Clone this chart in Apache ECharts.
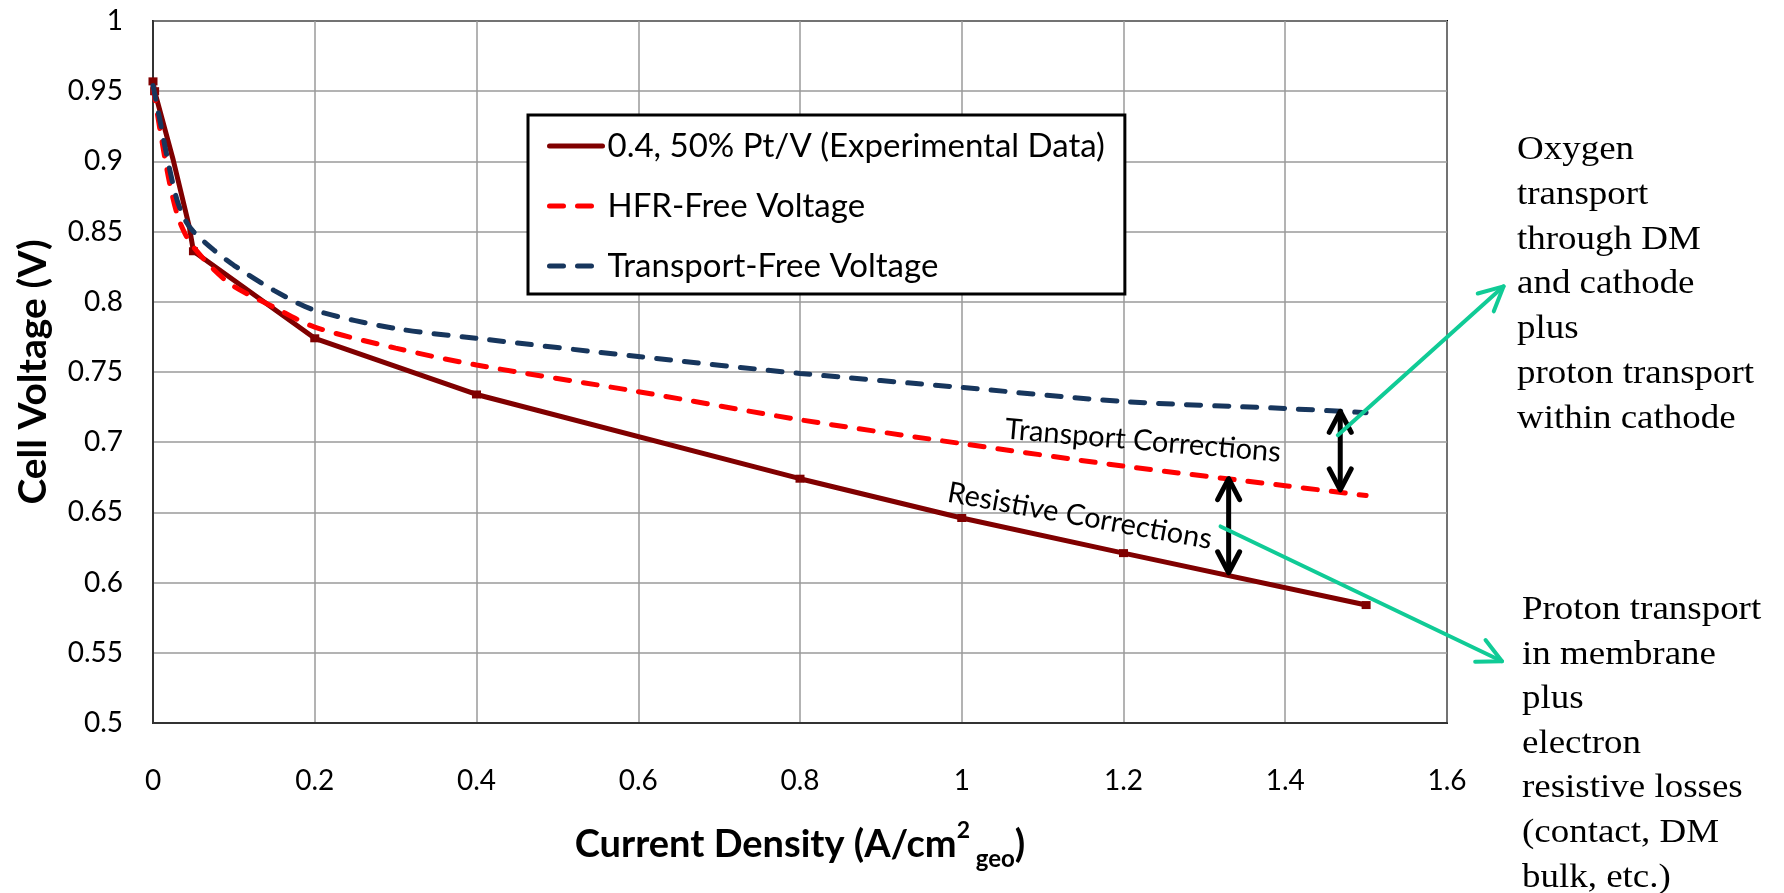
<!DOCTYPE html>
<html>
<head>
<meta charset="utf-8">
<script src="https://cdn.jsdelivr.net/npm/echarts@6/dist/echarts.min.js"></script>
<style>
  html, body { margin: 0; padding: 0; background: #fff; }
  #chart { width: 1784px; height: 893px; }
</style>
</head>
<body>
<div id="chart"></div>
<script>
// Polarisation curve, 0.4 mg/cm2 50% Pt/V cathode
const expJ = [0, 0.002, 0.025, 0.045, 0.05, 0.2, 0.4, 0.8, 1.0, 1.2, 1.5];
const expV = [0.957, 0.950, 0.901, 0.853, 0.836, 0.774, 0.734, 0.674, 0.646, 0.621, 0.584];
// 1 = point drawn with a marker
const expMarked = [1, 1, 0, 0, 1, 1, 1, 1, 1, 1, 1];

// Model curves share one current-density grid
const modelJ = [0, 0.01, 0.02, 0.03, 0.04, 0.05, 0.075, 0.1, 0.15, 0.2, 0.3, 0.4, 0.6, 0.8, 1.0, 1.2, 1.4, 1.5];
const hfrFreeV = [0.953, 0.918, 0.886, 0.862, 0.848, 0.839, 0.823, 0.811, 0.796, 0.782, 0.767, 0.755, 0.736, 0.716, 0.699, 0.683, 0.669, 0.662];
const transportFreeV = [0.954, 0.925, 0.896, 0.872, 0.858, 0.850, 0.837, 0.826, 0.808, 0.794, 0.781, 0.774, 0.761, 0.749, 0.739, 0.729, 0.724, 0.721];

const seriesNames = ['0.4, 50% Pt/V (Experimental Data)', 'HFR-Free Voltage', 'Transport-Free Voltage'];

const xTickLabels = ['0', '0.2', '0.4', '0.6', '0.8', '1', '1.2', '1.4', '1.6'];
const yTickLabels = ['0.5', '0.55', '0.6', '0.65', '0.7', '0.75', '0.8', '0.85', '0.9', '0.95', '1'];

// Correction spans: [current density, upper voltage, lower voltage]
const correctionSpans = [[1.33, 0.674, 0.607], [1.468, 0.722, 0.666]];
// Correction labels: [text, current density, voltage]
const correctionLabels = [['Transport Corrections', 1.224, 0.701], ['Resistive Corrections', 1.146, 0.6474]];
const correctionAngles = [-4.8, -10.2];
// Callouts: [from J, from V, to J, to V]
const callouts = [[1.465, 0.705, 1.670, 0.811], [1.320, 0.640, 1.668, 0.544]];

const oxygenNote = ['Oxygen', 'transport', 'through DM', 'and cathode', 'plus', 'proton transport', 'within cathode'];
const protonNote = ['Proton transport', 'in membrane', 'plus', 'electron', 'resistive losses', '(contact, DM', 'bulk, etc.)'];

const zip = (xs, ys) => xs.map((x, i) => [x, ys[i]]);

function arrowHead(tip, from, len, half) {
  const dx = tip[0] - from[0], dy = tip[1] - from[1];
  const d = Math.hypot(dx, dy) || 1;
  const ux = dx / d, uy = dy / d;
  const bx = tip[0] - ux * len, by = tip[1] - uy * len;
  return [[bx - uy * half, by + ux * half], tip, [bx + uy * half, by - ux * half]];
}

function renderSpan(params, api) {
  const top = api.coord([api.value(0), api.value(1)]);
  const bot = api.coord([api.value(0), api.value(2)]);
  const st = { stroke: '#000', lineWidth: 5, lineCap: 'round', lineJoin: 'round', fill: null };
  return {
    type: 'group',
    children: [
      { type: 'line', shape: { x1: top[0], y1: top[1] + 2, x2: bot[0], y2: bot[1] - 2 }, style: st },
      { type: 'polyline', shape: { points: arrowHead(top, bot, 21, 11) }, style: st },
      { type: 'polyline', shape: { points: arrowHead(bot, top, 21, 11) }, style: st }
    ]
  };
}

function renderCallout(params, api) {
  const a = api.coord([api.value(0), api.value(1)]);
  const b = api.coord([api.value(2), api.value(3)]);
  const st = { stroke: '#10CB96', lineWidth: 4, lineCap: 'round', lineJoin: 'round', fill: null };
  return {
    type: 'group',
    children: [
      { type: 'line', shape: { x1: a[0], y1: a[1], x2: b[0], y2: b[1] }, style: st },
      { type: 'polyline', shape: { points: arrowHead(b, a, 24, 12) }, style: st }
    ]
  };
}

function renderLabel(params, api) {
  const p = api.coord([api.value(1), api.value(2)]);
  return {
    type: 'text',
    x: p[0], y: p[1],
    rotation: correctionAngles[params.dataIndex] * Math.PI / 180,
    style: {
      text: correctionLabels[params.dataIndex][0],
      font: '29px Lato',
      fill: '#000',
      align: 'center',
      verticalAlign: 'middle'
    }
  };
}

const chart = echarts.init(document.getElementById('chart'), null, { renderer: 'canvas' });

chart.setOption({
  animation: false,
  backgroundColor: '#fff',
  textStyle: { fontFamily: 'Lato' },
  grid: {
    left: 153, top: 21, right: 337, bottom: 170,
    show: true, borderColor: '#000', borderWidth: 2, backgroundColor: 'transparent'
  },
  xAxis: {
    type: 'value', min: 0, max: 1.6, interval: 0.2,
    name: 'Current Density (A/cm{sup|2}{sub| geo})',
    nameLocation: 'middle', nameGap: 96,
    nameTextStyle: {
      fontFamily: 'Lato', fontWeight: 'bold', fontSize: 38, color: '#000', lineHeight: 52,
      rich: {
        sup: { fontFamily: 'Lato', fontWeight: 'bold', fontSize: 23, lineHeight: 30, verticalAlign: 'top', color: '#000' },
        sub: { fontFamily: 'Lato', fontWeight: 'bold', fontSize: 24, lineHeight: 22, verticalAlign: 'bottom', color: '#000' }
      }
    },
    axisLine: { show: true, onZero: false, lineStyle: { color: '#333', width: 2 } },
    axisTick: { show: false },
    axisLabel: {
      margin: 44, fontSize: 28, color: '#000', fontFamily: 'Lato',
      formatter: v => xTickLabels[Math.round(v / 0.2)]
    },
    splitLine: { show: true, lineStyle: { color: '#9a9a9a', width: 1.5 } }
  },
  yAxis: {
    type: 'value', min: 0.5, max: 1, interval: 0.05,
    name: 'Cell Voltage (V)',
    nameLocation: 'middle', nameGap: 100, nameRotate: 90,
    nameTextStyle: { fontFamily: 'Lato', fontWeight: 'bold', fontSize: 39, color: '#000' },
    axisLine: { show: true, onZero: false, lineStyle: { color: '#333', width: 2 } },
    axisTick: { show: false },
    axisLabel: {
      margin: 30, fontSize: 28, color: '#000', fontFamily: 'Lato',
      formatter: v => yTickLabels[Math.round((v - 0.5) / 0.05)]
    },
    splitLine: { show: true, lineStyle: { color: '#9a9a9a', width: 1.5 } }
  },
  legend: {
    data: seriesNames,
    orient: 'vertical',
    left: 528, top: 115,
    padding: [14, 20, 11, 19],
    itemWidth: 53, itemHeight: 14, itemGap: 26,
    borderColor: '#000', borderWidth: 3,
    backgroundColor: '#fff',
    itemStyle: { opacity: 0 },
    lineStyle: { width: 5, cap: 'round' },
    textStyle: { fontFamily: 'Lato', fontSize: 33, lineHeight: 34, color: '#000' },
    selectedMode: false
  },
  series: [
    {
      name: seriesNames[0], type: 'line',
      data: zip(expJ, expV),
      color: '#800000',
      lineStyle: { color: '#800000', width: 5 },
      symbol: 'rect',
      symbolSize: (val, params) => expMarked[params.dataIndex] ? [9, 8] : 0,
      itemStyle: { color: '#800000' },
      z: 3
    },
    {
      name: seriesNames[1], type: 'line',
      data: zip(modelJ, hfrFreeV),
      color: '#ff0000',
      smooth: 0.3,
      showSymbol: false, symbol: 'none',
      lineStyle: { color: '#ff0000', width: 5, type: [14, 14], cap: 'round' },
      z: 4
    },
    {
      name: seriesNames[2], type: 'line',
      data: zip(modelJ, transportFreeV),
      color: '#17365d',
      smooth: 0.3,
      showSymbol: false, symbol: 'none',
      lineStyle: { color: '#17365d', width: 5, type: [14, 14], cap: 'round' },
      z: 4
    },
    {
      type: 'custom', name: 'spans', silent: true, clip: false, z: 6,
      data: correctionSpans, renderItem: renderSpan
    },
    {
      type: 'custom', name: 'callouts', silent: true, clip: false, z: 7,
      data: callouts, renderItem: renderCallout
    },
    {
      type: 'custom', name: 'labels', silent: true, clip: false, z: 6,
      data: correctionLabels.map(l => [0, l[1], l[2]]), renderItem: renderLabel
    }
  ],
  graphic: [
    {
      type: 'text', x: 1517, y: 128, scaleX: 1.12,
      style: { text: oxygenNote.join('\n'), font: '33px "Liberation Serif"', lineHeight: 44.8, fill: '#000', verticalAlign: 'top' }
    },
    {
      type: 'text', x: 1522, y: 588, scaleX: 1.12,
      style: { text: protonNote.join('\n'), font: '33px "Liberation Serif"', lineHeight: 44.6, fill: '#000', verticalAlign: 'top' }
    }
  ]
});
</script>
</body>
</html>
